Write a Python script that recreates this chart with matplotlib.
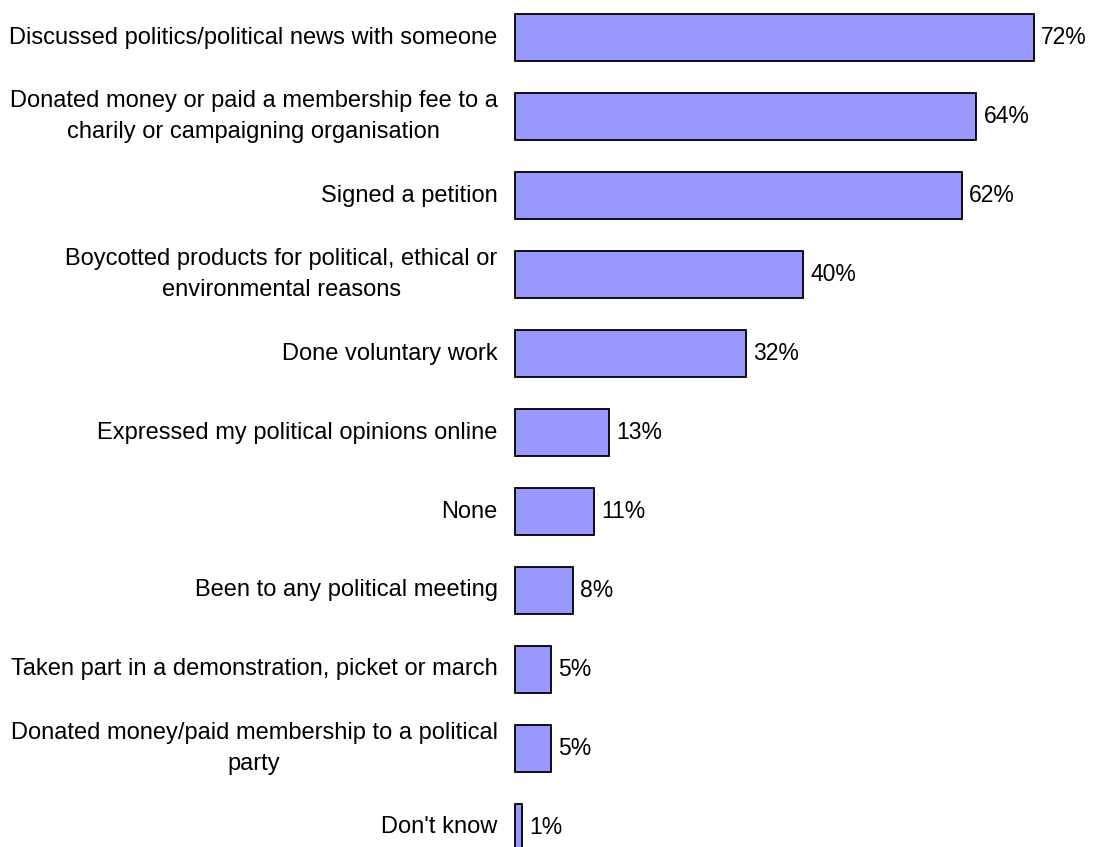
import matplotlib
matplotlib.use("Agg")
import matplotlib.pyplot as plt

plt.rcParams["font.family"] = ["Liberation Sans", "DejaVu Sans"]

categories = [
    "Discussed politics/political news with someone",
    "Donated money or paid a membership fee to a\ncharily or campaigning organisation",
    "Signed a petition",
    "Boycotted products for political, ethical or\nenvironmental reasons",
    "Done voluntary work",
    "Expressed my political opinions online",
    "None",
    "Been to any political meeting",
    "Taken part in a demonstration, picket or march",
    "Donated money/paid membership to a political\nparty",
    "Don't know",
]
values = [72, 64, 62, 40, 32, 13, 11, 8, 5, 5, 1]

fig = plt.figure(figsize=(10.96, 8.47), dpi=100)
ax = fig.add_axes([515 / 1096, 0, 1 - 515 / 1096, 1])

ypos = list(range(len(categories)))
bars = ax.barh(ypos, values, height=0.6, color="#9999FF",
               edgecolor="black", linewidth=1.3, clip_on=False)

# value labels to the right of each bar
for bar, v in zip(bars, values):
    ax.text(bar.get_width() + 1.0, bar.get_y() + bar.get_height() / 2,
            f"{v}%", va="center", ha="left", fontsize=16.5)

# category labels, right aligned left of the bars
for y, label in zip(ypos, categories):
    ax.text(-2.4, y, label, va="center", ha="right", fontsize=17,
            multialignment="center", linespacing=1.5, clip_on=False)

ax.set_xlim(0, 80.6)
ax.set_ylim(10.247, -0.475)
ax.axis("off")

fig.savefig("out.png", dpi=100)
